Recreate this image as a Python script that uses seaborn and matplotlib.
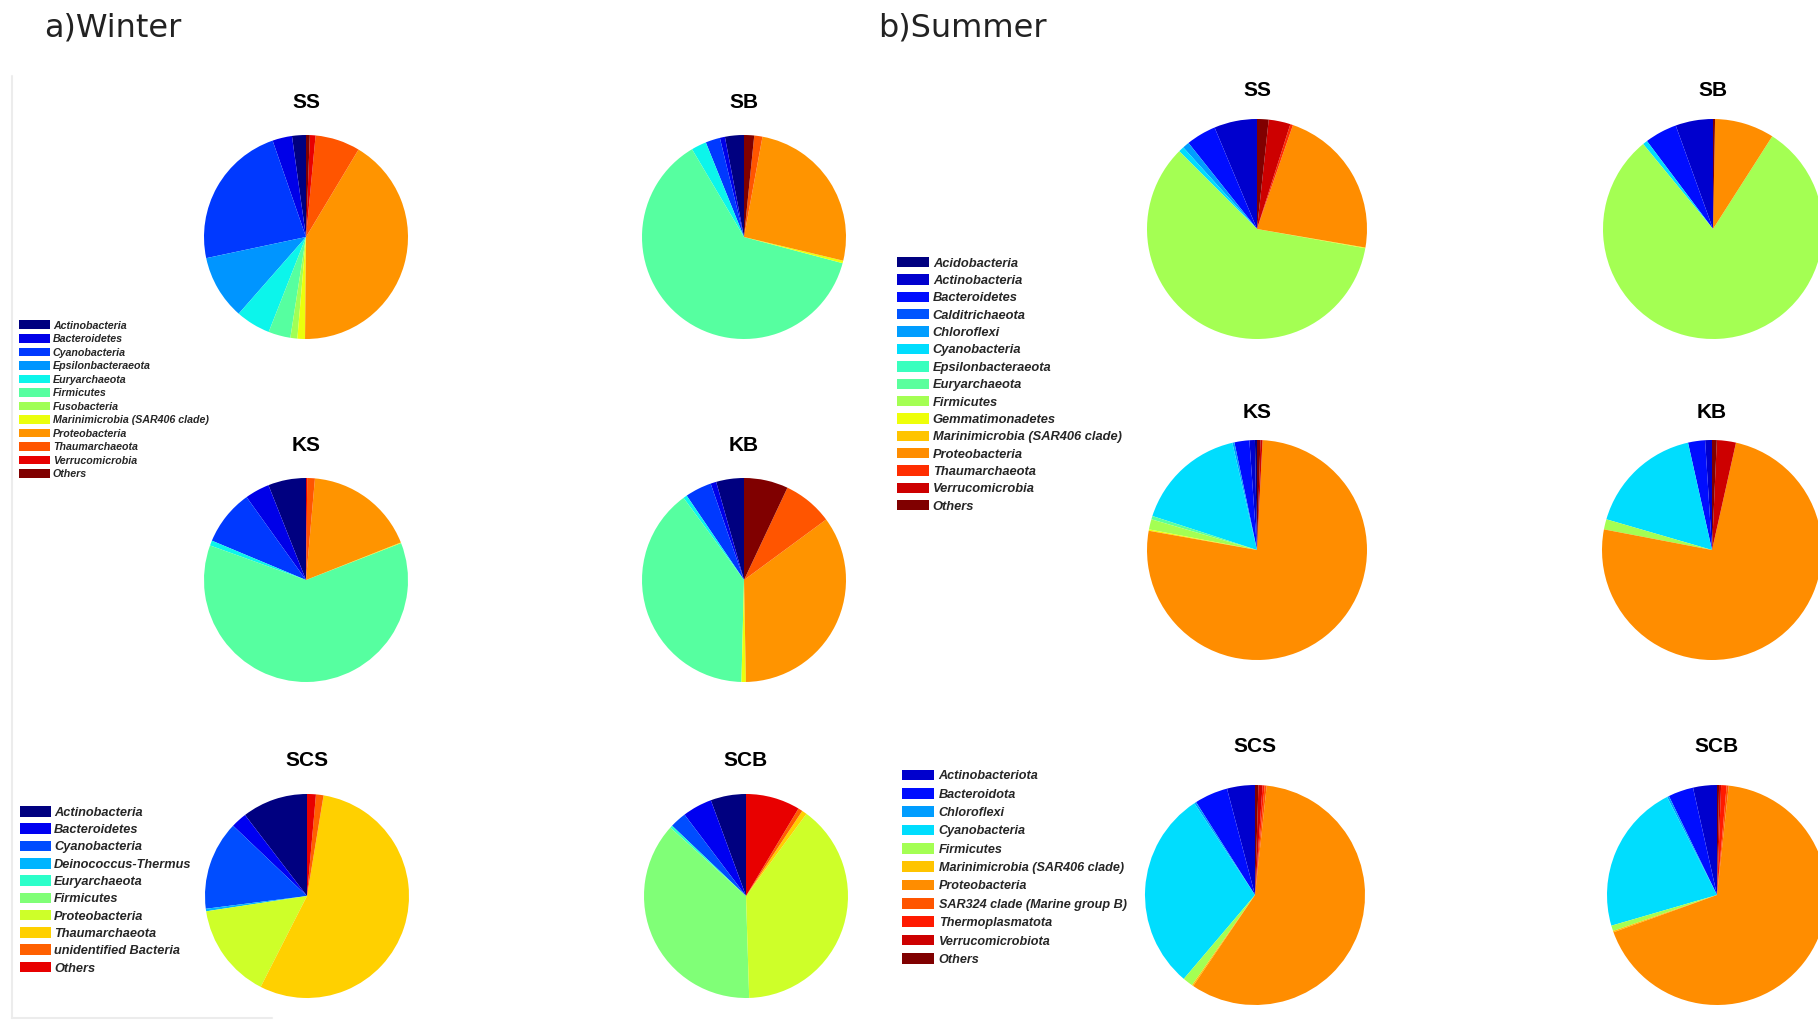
import numpy as np
import matplotlib
matplotlib.use("Agg")
import matplotlib.pyplot as plt
from matplotlib.patches import Patch
from matplotlib.lines import Line2D
from matplotlib.font_manager import FontProperties
import seaborn as sns

sns.set_theme(style="white")
plt.rcParams['font.family'] = ['Liberation Sans', 'DejaVu Sans']

# 범례 항목 (phylum)
winter_top_labels = ['Actinobacteria', 'Bacteroidetes', 'Cyanobacteria', 'Epsilonbacteraeota',
                     'Euryarchaeota', 'Firmicutes', 'Fusobacteria', 'Marinimicrobia (SAR406 clade)',
                     'Proteobacteria', 'Thaumarchaeota', 'Verrucomicrobia', 'Others']
winter_bottom_labels = ['Actinobacteria', 'Bacteroidetes', 'Cyanobacteria', 'Deinococcus-Thermus',
                        'Euryarchaeota', 'Firmicutes', 'Proteobacteria', 'Thaumarchaeota',
                        'unidentified Bacteria', 'Others']
summer_top_labels = ['Acidobacteria', 'Actinobacteria', 'Bacteroidetes', 'Calditrichaeota', 'Chloroflexi',
                     'Cyanobacteria', 'Epsilonbacteraeota', 'Euryarchaeota', 'Firmicutes', 'Gemmatimonadetes',
                     'Marinimicrobia (SAR406 clade)', 'Proteobacteria', 'Thaumarchaeota',
                     'Verrucomicrobia', 'Others']
summer_bottom_labels = ['Actinobacteriota', 'Bacteroidota', 'Chloroflexi', 'Cyanobacteria', 'Firmicutes',
                        'Marinimicrobia (SAR406 clade)', 'Proteobacteria', 'SAR324 clade (Marine group B)',
                        'Thermoplasmatota', 'Verrucomicrobiota', 'Others']

# 상대 풍부도 (%) - 범례 순서
winter_ss = [2.2, 3.1, 23.0, 10.2, 5.5, 3.5, 1.1, 1.2, 41.5, 7.1, 0.9, 0.6]
winter_sb = [3.0, 0.8, 2.3, 0.0, 2.4, 62.3, 0.0, 0.4, 25.8, 1.3, 0.0, 1.6]
winter_ks = [6.0, 3.9, 8.8, 0.0, 0.8, 61.4, 0.0, 0.1, 17.6, 1.2, 0.2, 0.0]
winter_kb = [4.4, 0.9, 4.2, 0.0, 0.6, 39.5, 0.0, 0.7, 34.8, 7.9, 0.0, 7.0]
winter_scs = [10.4, 2.5, 14.1, 0.4, 0.0, 0.0, 15.1, 54.9, 1.2, 1.4]
winter_scb = [5.6, 4.7, 2.6, 0.0, 0.4, 37.2, 39.4, 0.8, 0.7, 8.6]
summer_ss = [0.0, 6.3, 4.4, 0.0, 1.0, 0.8, 0.0, 0.0, 59.7, 0.1, 0.0, 22.4, 0.4, 3.2, 1.7]
summer_sb = [0.0, 5.5, 4.75, 0.0, 0.0, 0.7, 0.0, 0.0, 80.0, 0.0, 0.0, 8.75, 0.0, 0.0, 0.3]
summer_ks = [0.3, 0.8, 2.2, 0.0, 0.3, 16.4, 0.0, 0.5, 1.5, 0.2, 0.0, 77.0, 0.0, 0.3, 0.5]
summer_kb = [0.0, 1.0, 2.5, 0.0, 0.0, 17.0, 0.0, 0.0, 1.5, 0.0, 0.0, 74.5, 0.0, 2.8, 0.7]
summer_scs = [4.1, 4.9, 0.3, 29.5, 1.5, 0.2, 57.8, 0.3, 0.3, 0.6, 0.5]
summer_scb = [3.5, 3.7, 0.3, 22.0, 0.8, 0.2, 67.8, 0.3, 0.8, 0.3, 0.3]

# jet 컬러맵 위치
winter_top_pos = [0, 0.091, 0.182, 0.273, 0.364, 0.455, 0.545, 0.636, 0.75, 0.818, 0.909, 1.0]
winter_bottom_pos = [0, 0.101, 0.202, 0.303, 0.404, 0.505, 0.6, 0.69, 0.808, 0.909]
summer_top_pos = [0, 0.07, 0.14, 0.21, 0.28, 0.34, 0.42, 0.46, 0.55, 0.64, 0.70, 0.76, 0.86, 0.93, 1.0]
summer_bottom_pos = [0.07, 0.14, 0.28, 0.34, 0.55, 0.70, 0.76, 0.82, 0.88, 0.93, 1.0]

W, H = 1818, 1022
fig = plt.figure(figsize=(W / 100, H / 100), dpi=100)
fig.patch.set_facecolor('white')


def fx(x):
    return x / W


def fy(y):
    return 1 - y / H


def draw_pie(values, pos, name, cx, cy, r, ty):
    colors = sns.color_palette(plt.cm.jet(np.asarray(pos)))
    ax = fig.add_axes([fx(cx - r), fy(cy + r), 2 * r / W, 2 * r / H])
    ax.pie(values, colors=colors, startangle=90, counterclock=True,
           wedgeprops=dict(linewidth=0, antialiased=True))
    ax.set_xlim(-1, 1)
    ax.set_ylim(-1, 1)
    ax.axis('off')
    fig.text(fx(cx), fy(ty), name, ha='center', va='center', fontsize=15, fontweight='bold',
             color='black')


def draw_legend(labels, pos, x, y, size, hl, hh, tp, ls):
    colors = sns.color_palette(plt.cm.jet(np.asarray(pos)))
    handles = [Patch(facecolor=c, edgecolor='none') for c in colors]
    prop = FontProperties(family='Liberation Sans', weight='bold', style='italic', size=size)
    fig.legend(handles, labels, loc='upper left', bbox_to_anchor=(fx(x), fy(y)),
               frameon=False, prop=prop, handlelength=hl, handleheight=hh,
               handletextpad=tp, labelspacing=ls, borderpad=0, borderaxespad=0)


# 겨울
draw_pie(winter_ss, winter_top_pos, 'SS', 306, 237, 102, 102)
draw_pie(winter_sb, winter_top_pos, 'SB', 744, 237, 102, 102)
draw_pie(winter_ks, winter_top_pos, 'KS', 306, 580, 102, 445)
draw_pie(winter_kb, winter_top_pos, 'KB', 744, 580, 102, 445)
draw_pie(winter_scs, winter_bottom_pos, 'SCS', 307, 896, 102, 760)
draw_pie(winter_scb, winter_bottom_pos, 'SCB', 746, 896, 102, 760)

# 여름
draw_pie(summer_ss, summer_top_pos, 'SS', 1257, 229, 110, 90)
draw_pie(summer_sb, summer_top_pos, 'SB', 1713, 229, 110, 90)
draw_pie(summer_ks, summer_top_pos, 'KS', 1257, 550, 110, 412)
draw_pie(summer_kb, summer_top_pos, 'KB', 1712, 550, 110, 412)
draw_pie(summer_scs, summer_bottom_pos, 'SCS', 1255, 895, 110, 746)
draw_pie(summer_scb, summer_bottom_pos, 'SCB', 1717, 895, 110, 746)

# 범례
draw_legend(winter_top_labels, winter_top_pos, 18.5, 320.5, 7.7, 2.94, 0.89, 0.28, 0.32)
draw_legend(winter_bottom_labels, winter_bottom_pos, 19.5, 806, 9.2, 2.45, 0.9, 0.27, 0.36)
draw_legend(summer_top_labels, summer_top_pos, 897, 257, 9.25, 2.49, 0.86, 0.3, 0.37)
draw_legend(summer_bottom_labels, summer_bottom_pos, 902, 769.5, 9.1, 2.57, 0.92, 0.33, 0.45)

# 패널 제목
fig.text(fx(44), fy(28), 'a)Winter', ha='left', va='center', fontsize=23,
         family='DejaVu Sans', color='#222222')
fig.text(fx(878), fy(28), 'b)Summer', ha='left', va='center', fontsize=23,
         family='DejaVu Sans', color='#222222')

# 연한 테두리
fig.add_artist(Line2D([fx(12), fx(12)], [fy(76), fy(1018)], color='#ececec', linewidth=1.5))
fig.add_artist(Line2D([fx(12), fx(272)], [fy(1018), fy(1018)], color='#ececec', linewidth=1.5))

fig.savefig('out.png', dpi=100, facecolor='white')
